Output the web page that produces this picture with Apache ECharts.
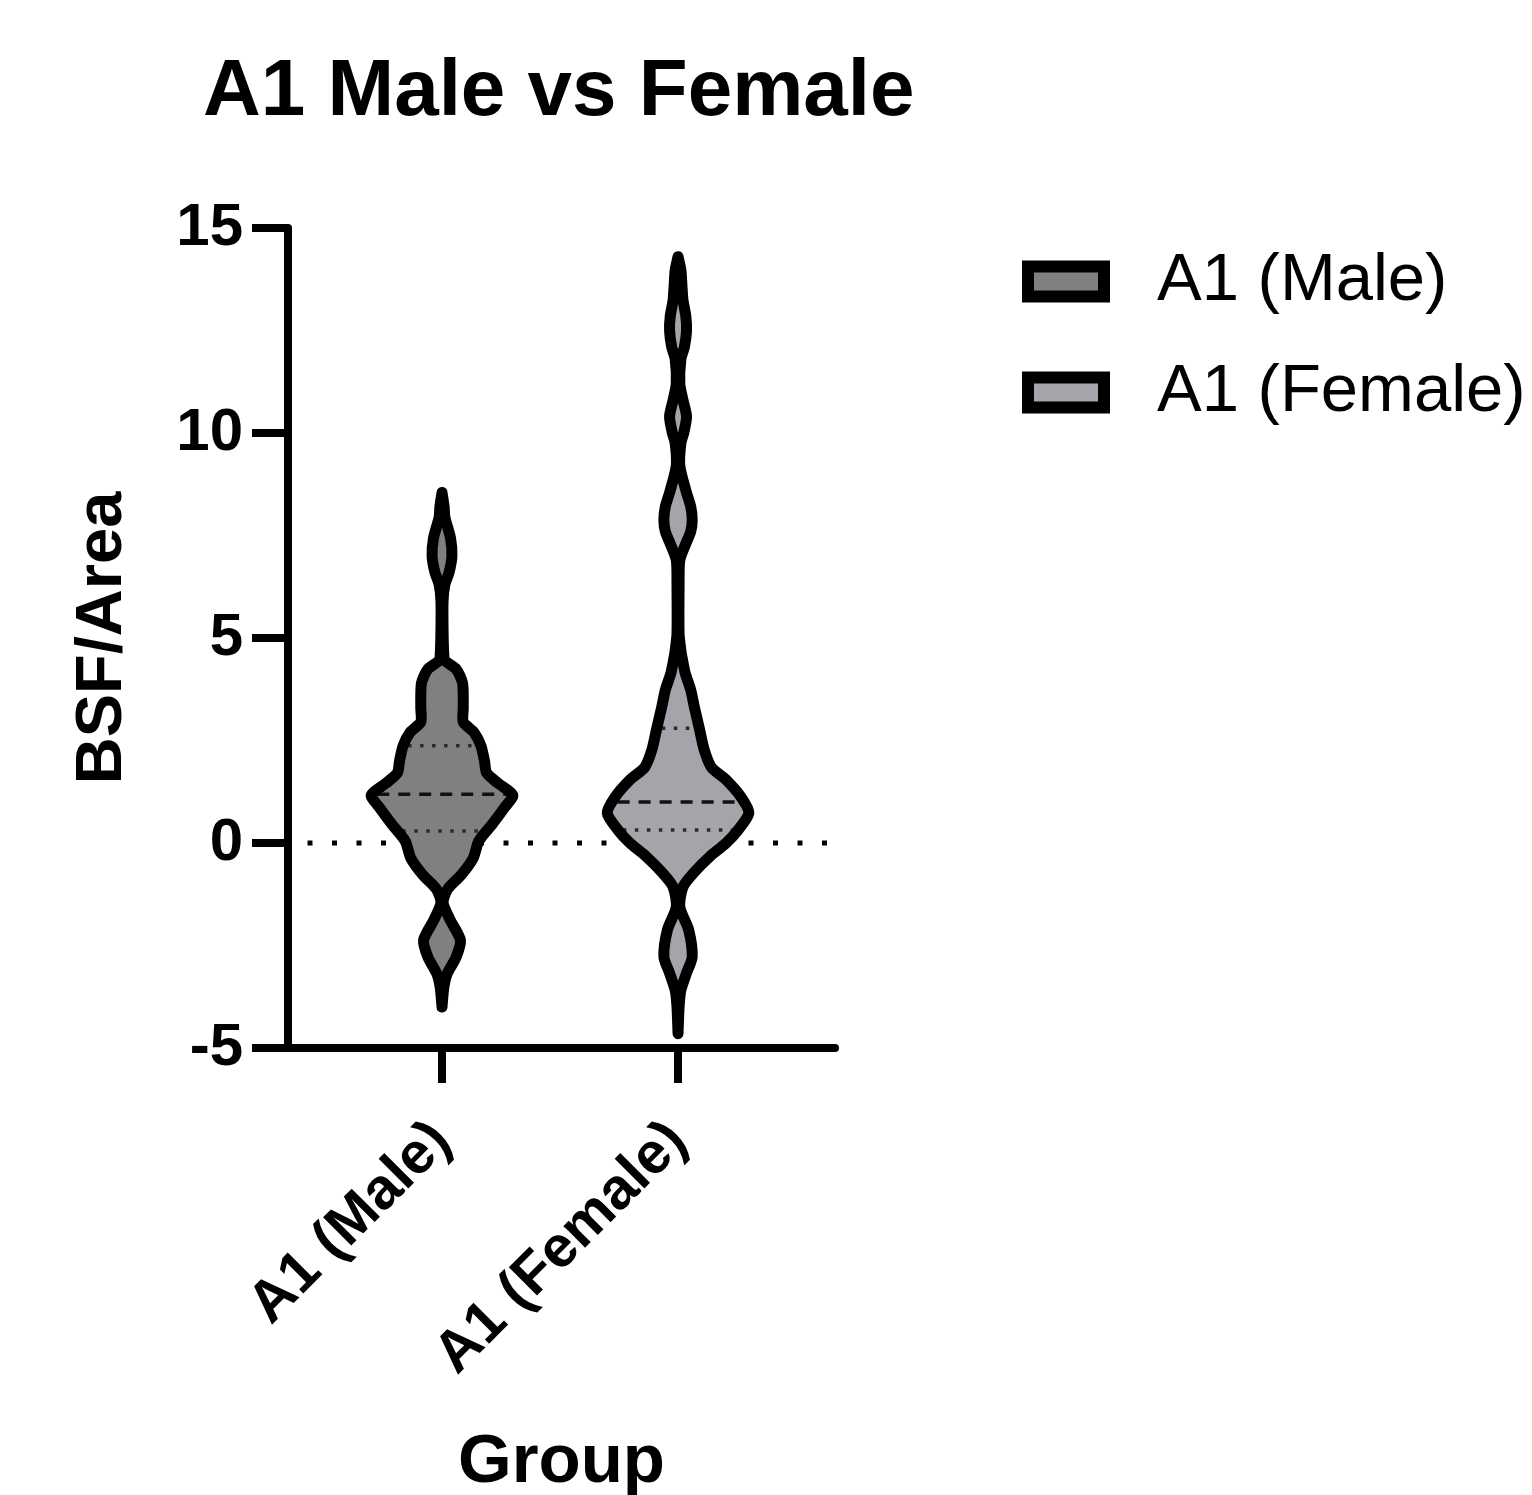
<!DOCTYPE html>
<html>
<head>
<meta charset="utf-8">
<script src="https://cdn.jsdelivr.net/npm/echarts@6/dist/echarts.min.js"></script>
<style>html,body{margin:0;padding:0;background:#fff}#chart{width:1532px;height:1495px}</style>
</head>
<body>
<div id="chart"></div>
<script>
// ---------- data ----------
const categories = ['A1 (Male)', 'A1 (Female)'];
const categoryPositions = [1, 2];
const seriesNames = ['A1 (Male)', 'A1 (Female)'];
const yTickValues = [-5, 0, 5, 10, 15];
const referenceLineY = 0;

// violin profiles: y value and relative density (1 = widest)
const maleY = [8.55, 8.2, 7.95, 7.44, 7.0, 6.6, 6.3, 5.9, 5.2, 4.6, 4.45, 4.24, 3.9, 3.3, 2.95, 2.7, 2.37, 2.0, 1.71, 1.46, 1.17, 0.88, 0.46, 0.05, -0.37, -0.78, -1.12, -1.45, -1.86, -2.37, -2.78, -3.2, -3.53, -4.0];
const maleDensity = [0, 0.03, 0.04, 0.12, 0.14, 0.10, 0.04, 0.015, 0.015, 0.025, 0.04, 0.20, 0.29, 0.30, 0.30, 0.45, 0.55, 0.60, 0.63, 0.79, 1.0, 0.89, 0.71, 0.52, 0.44, 0.27, 0.08, 0.015, 0.11, 0.26, 0.20, 0.07, 0.025, 0];
const femaleY = [14.3, 13.98, 13.6, 13.24, 12.85, 12.5, 12.1, 11.8, 11.2, 10.8, 10.4, 10.0, 9.75, 9.2, 8.6, 8.2, 7.88, 7.6, 7.3, 6.9, 6.3, 5.1, 4.7, 4.54, 4.15, 3.73, 3.32, 2.8, 2.27, 1.85, 1.54, 1.12, 0.73, 0.32, 0.0, -0.33, -0.73, -1.07, -1.56, -2.12, -2.78, -3.17, -3.59, -4.0, -4.65];
const femaleDensity = [0, 0.04, 0.055, 0.07, 0.11, 0.12, 0.09, 0.04, 0.025, 0.07, 0.12, 0.08, 0.04, 0.025, 0.11, 0.18, 0.2, 0.18, 0.11, 0.025, 0.015, 0.015, 0.04, 0.055, 0.10, 0.18, 0.23, 0.30, 0.37, 0.47, 0.68, 0.89, 1.0, 0.85, 0.68, 0.45, 0.22, 0.07, 0.025, 0.15, 0.2, 0.12, 0.04, 0.015, 0];

// quartiles: [Q1, median, Q3]
const maleQuartiles = [0.29, 1.19, 2.37];
const femaleQuartiles = [0.32, 1.0, 2.8];

// ---------- styles ----------
const FONT = 'Liberation Sans, Arial, sans-serif';
const fills = ['#808080', '#A5A4AA'];
const violinHalfWidth = 0.30; // in x-axis units
const xMin = 0.3475, xMax = 2.665;

function densityAt(ys, ds, q) {
  for (let i = 0; i < ys.length - 1; i++) {
    const a = ys[i], b = ys[i + 1];
    if ((q <= a && q >= b)) {
      const t = (a - q) / (a - b);
      return ds[i] + t * (ds[i + 1] - ds[i]);
    }
  }
  return 0;
}

function makeRender(ys, ds, quarts) {
  return function (params, api) {
    const pos = api.value(0);
    const right = [], left = [];
    for (let i = 0; i < ys.length; i++) {
      right.push(api.coord([pos + ds[i] * violinHalfWidth, ys[i]]));
    }
    for (let i = ys.length - 1; i >= 0; i--) {
      left.push(api.coord([pos - ds[i] * violinHalfWidth, ys[i]]));
    }
    const pts = right.concat(left);
    const fill = api.visual('color');
    const children = [{
      type: 'polygon',
      shape: { points: pts, smooth: 0.25 },
      style: { fill: fill, stroke: null }
    }];
    quarts.forEach(function (q, qi) {
      const d = densityAt(ys, ds, q);
      const p1 = api.coord([pos - d * violinHalfWidth, q]);
      const p2 = api.coord([pos + d * violinHalfWidth, q]);
      const inset = 5;
      children.push({
        type: 'line',
        shape: { x1: p1[0] + inset, y1: p1[1], x2: p2[0] - inset, y2: p2[1] },
        style: qi === 1
          ? { stroke: '#111', lineWidth: 3.5, lineDash: [12, 9] }
          : { stroke: '#2a2a2a', lineWidth: 3.5, lineDash: [3.5, 8.5] }
      });
    });
    children.push({
      type: 'polygon',
      shape: { points: pts, smooth: 0.25 },
      style: { fill: null, stroke: '#000', lineWidth: 11, lineJoin: 'round' }
    });
    return { type: 'group', children: children };
  };
}

const chart = echarts.init(document.getElementById('chart'));
chart.setOption({
  animation: false,
  backgroundColor: '#fff',
  title: {
    text: 'A1 Male vs Female',
    left: 203, top: 53, padding: 0,
    textStyle: { fontFamily: FONT, fontWeight: 'bold', fontSize: 80, color: '#000' }
  },
  legend: {
    data: seriesNames,
    left: 1022, top: 245, padding: 0,
    orient: 'vertical',
    icon: 'rect',
    itemWidth: 76, itemHeight: 30, itemGap: 38,
    itemStyle: { borderColor: '#000', borderWidth: 12 },
    textStyle: { fontFamily: FONT, fontSize: 67, color: '#000', lineHeight: 73, padding: [0, 0, 0, 48] }
  },
  grid: { left: 288, right: 697, top: 228, bottom: 447, containLabel: false, outerBoundsMode: 'none' },
  xAxis: {
    type: 'value', min: xMin, max: xMax,
    axisLine: { show: true, onZero: false, lineStyle: { color: '#000', width: 8 } },
    axisTick: { show: true, customValues: categoryPositions, length: 35, lineStyle: { color: '#000', width: 8 } },
    axisLabel: {
      customValues: categoryPositions, rotate: 45, margin: 84,
      fontFamily: FONT, fontWeight: 'bold', fontSize: 58, color: '#000',
      formatter: function (v) { const i = categoryPositions.indexOf(v); return i >= 0 ? categories[i] : ''; }
    },
    splitLine: { show: false },
    name: 'Group', nameLocation: 'middle', nameGap: 380,
    nameTextStyle: { fontFamily: FONT, fontWeight: 'bold', fontSize: 69, color: '#000' }
  },
  yAxis: {
    type: 'value', min: -5, max: 15, interval: 5,
    axisLine: { show: true, onZero: false, lineStyle: { color: '#000', width: 8 } },
    axisTick: { show: true, length: 36, lineStyle: { color: '#000', width: 8 } },
    axisLabel: {
      margin: 45, fontFamily: FONT, fontWeight: 'bold', fontSize: 60, color: '#000',
      formatter: function (v) { return yTickValues.indexOf(v) >= 0 ? String(v) : ''; }
    },
    splitLine: { show: false },
    name: 'BSF/Area', nameLocation: 'middle', nameGap: 152,
    nameTextStyle: { fontFamily: FONT, fontWeight: 'bold', fontSize: 65, color: '#000' }
  },
  series: [
    {
      type: 'line', silent: true, z: 1, symbol: 'none',
      lineStyle: { color: '#000', width: 5, type: [5, 19.5], dashOffset: -19.5, cap: 'butt' },
      data: [[xMin, referenceLineY], [xMax, referenceLineY]]
    },
    {
      name: seriesNames[0], type: 'custom', z: 3,
      itemStyle: { color: fills[0] },
      renderItem: makeRender(maleY, maleDensity, maleQuartiles),
      encode: { x: 0, y: 1 },
      data: [[categoryPositions[0], 0]]
    },
    {
      name: seriesNames[1], type: 'custom', z: 3,
      itemStyle: { color: fills[1] },
      renderItem: makeRender(femaleY, femaleDensity, femaleQuartiles),
      encode: { x: 0, y: 1 },
      data: [[categoryPositions[1], 0]]
    }
  ]
});
</script>
</body>
</html>
